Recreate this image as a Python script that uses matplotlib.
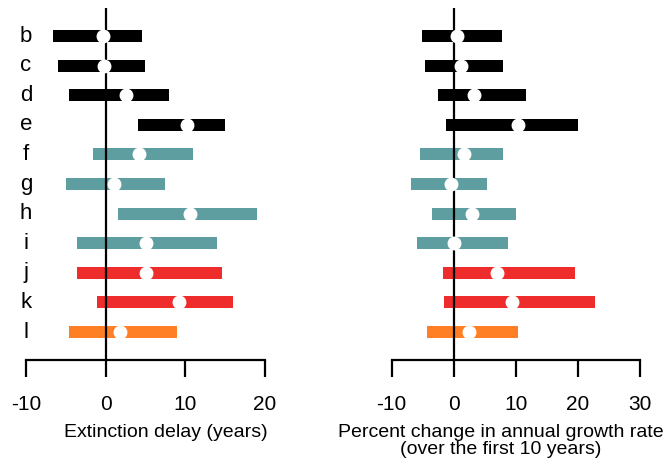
import matplotlib
matplotlib.use("Agg")
import matplotlib.pyplot as plt

labels = ["b", "c", "d", "e", "f", "g", "h", "i", "j", "k", "l"]
groups = ["black", "black", "black", "black", "teal", "teal", "teal", "teal", "red", "red", "orange"]
palette = {"black": "#000000", "teal": "#5F9EA0", "red": "#EE2C2C", "orange": "#FF7F24"}

delay_lo = [-6.6, -6.0, -4.6, 4.0, -1.55, -5.0, 1.5, -3.6, -3.6, -1.1, -4.6]
delay_hi = [4.5, 4.95, 8.0, 15.0, 11.0, 7.5, 19.0, 14.0, 14.6, 16.0, 9.0]
delay_mid = [-0.3, -0.2, 2.5, 10.15, 4.2, 1.0, 10.6, 5.0, 5.0, 9.2, 1.85]

growth_lo = [-5.1, -4.6, -2.6, -1.3, -5.4, -6.9, -3.5, -5.9, -1.8, -1.5, -4.3]
growth_hi = [7.8, 8.0, 11.7, 20.0, 8.0, 5.3, 10.05, 8.7, 19.6, 22.7, 10.4]
growth_mid = [0.5, 1.1, 3.3, 10.4, 1.7, -0.4, 3.0, 0.0, 7.0, 9.3, 2.4]

delay_ticks = [-10, 0, 10, 20]
growth_ticks = [-10, 0, 10, 20, 30]

plt.rcParams["font.family"] = ["Liberation Sans", "DejaVu Sans"]

W, H = 665, 461
fig = plt.figure(figsize=(W / 100, H / 100), dpi=100)

y_top_px, y_bot_px = 8, 360
row0_px, row_step = 36, 29.6
ylim = ((y_bot_px - row0_px) / row_step, (y_top_px - row0_px) / row_step)

def make_ax(x0px, x1px, lo, hi, mid, ticks):
    ax = fig.add_axes([x0px / W, 1 - y_bot_px / H, (x1px - x0px) / W, (y_bot_px - y_top_px) / H])
    ax.set_xlim(ticks[0], ticks[-1])
    ax.set_ylim(*ylim)
    ys = list(range(len(labels)))
    widths = [h - l for l, h in zip(lo, hi)]
    cols = [palette[g] for g in groups]
    ax.barh(ys, widths, left=lo, height=0.405, color=cols, zorder=2)
    ax.axvline(0, color="black", lw=1.6, zorder=3)
    ax.plot(mid, ys, "o", ms=9, color="white", mec="white", zorder=4, clip_on=False)
    for s in ["top", "right", "left"]:
        ax.spines[s].set_visible(False)
    ax.spines["bottom"].set_linewidth(1.6)
    ax.spines["bottom"].set_bounds(ticks[0], ticks[-1])
    ax.set_yticks([])
    ax.set_xticks(ticks)
    ax.set_xticklabels([str(t) for t in ticks], fontsize=15)
    ax.tick_params(axis="x", direction="out", length=12.2, width=1.6, pad=13)
    return ax

ax1 = make_ax(26, 265, delay_lo, delay_hi, delay_mid, delay_ticks)
ax2 = make_ax(391.7, 640, growth_lo, growth_hi, growth_mid, growth_ticks)

for i, lab in enumerate(labels):
    ax1.text(-10, i, lab, ha="center", va="center", fontsize=16)

fig.text(166 / W, 1 - 432 / H, "Extinction delay (years)", ha="center", va="center", fontsize=14)
fig.text(501 / W, 1 - 441 / H, "Percent change in annual growth rate\n(over the first 10 years)",
         ha="center", va="center", fontsize=14, linespacing=0.93)

fig.savefig("out.png", dpi=100)
